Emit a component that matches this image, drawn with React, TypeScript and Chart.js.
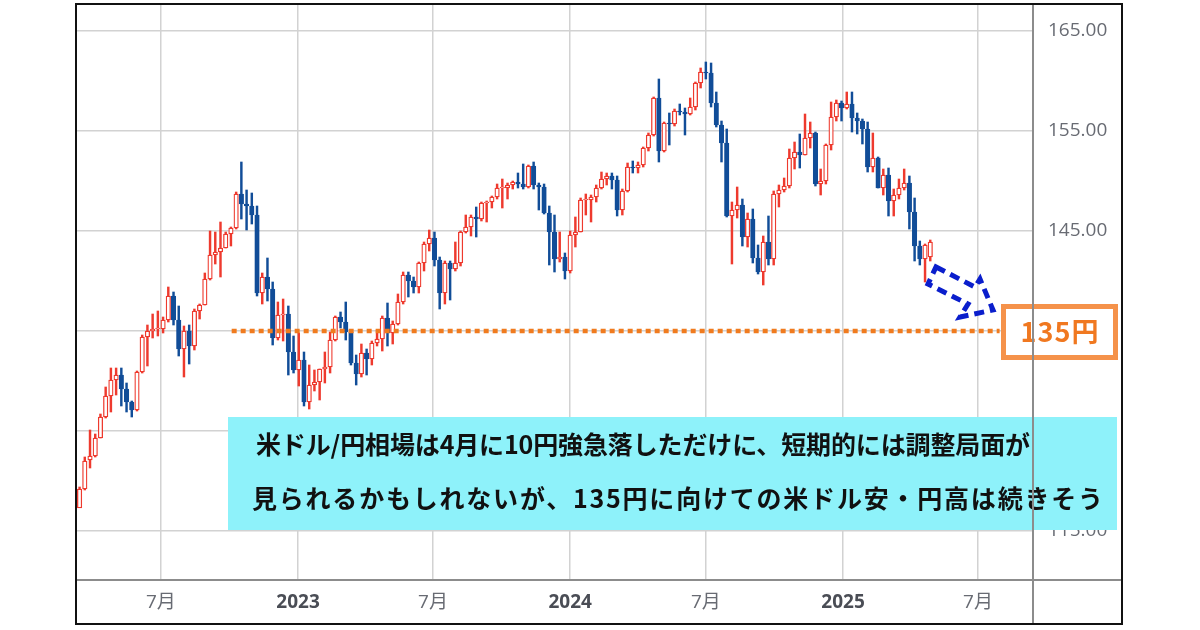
import React, { useEffect, useRef } from "react";
import { Chart, registerables } from "chart.js";

Chart.register(...registerables);

// ---- Data (weekly USD/JPY candles, week starting Monday) ----
const weeks: string[] = [
  // 2022
  "2022-03-07","2022-03-14","2022-03-21","2022-03-28","2022-04-04","2022-04-11","2022-04-18","2022-04-25",
  "2022-05-02","2022-05-09","2022-05-16","2022-05-23","2022-05-30","2022-06-06","2022-06-13","2022-06-20",
  "2022-06-27","2022-07-04","2022-07-11","2022-07-18","2022-07-25","2022-08-01","2022-08-08","2022-08-15",
  "2022-08-22","2022-08-29","2022-09-05","2022-09-12","2022-09-19","2022-09-26","2022-10-03","2022-10-10",
  "2022-10-17","2022-10-24","2022-10-31","2022-11-07","2022-11-14","2022-11-21","2022-11-28","2022-12-05",
  "2022-12-12","2022-12-19","2022-12-26",
  // 2023
  "2023-01-02","2023-01-09","2023-01-16","2023-01-23","2023-01-30","2023-02-06","2023-02-13","2023-02-20",
  "2023-02-27","2023-03-06","2023-03-13","2023-03-20","2023-03-27","2023-04-03","2023-04-10","2023-04-17",
  "2023-04-24","2023-05-01","2023-05-08","2023-05-15","2023-05-22","2023-05-29","2023-06-05","2023-06-12",
  "2023-06-19","2023-06-26","2023-07-03","2023-07-10","2023-07-17","2023-07-24","2023-07-31","2023-08-07",
  "2023-08-14","2023-08-21","2023-08-28","2023-09-04","2023-09-11","2023-09-18","2023-09-25","2023-10-02",
  "2023-10-09","2023-10-16","2023-10-23","2023-10-30","2023-11-06","2023-11-13","2023-11-20","2023-11-27",
  "2023-12-04","2023-12-11","2023-12-18","2023-12-25",
  // 2024
  "2024-01-01","2024-01-08","2024-01-15","2024-01-22","2024-01-29","2024-02-05","2024-02-12","2024-02-19",
  "2024-02-26","2024-03-04","2024-03-11","2024-03-18","2024-03-25","2024-04-01","2024-04-08","2024-04-15",
  "2024-04-22","2024-04-29","2024-05-06","2024-05-13","2024-05-20","2024-05-27","2024-06-03","2024-06-10",
  "2024-06-17","2024-06-24","2024-07-01","2024-07-08","2024-07-15","2024-07-22","2024-07-29","2024-08-05",
  "2024-08-12","2024-08-19","2024-08-26","2024-09-02","2024-09-09","2024-09-16","2024-09-23","2024-09-30",
  "2024-10-07","2024-10-14","2024-10-21","2024-10-28","2024-11-04","2024-11-11","2024-11-18","2024-11-25",
  "2024-12-02","2024-12-09","2024-12-16","2024-12-23","2024-12-30",
  // 2025
  "2025-01-06","2025-01-13","2025-01-20","2025-01-27","2025-02-03","2025-02-10","2025-02-17","2025-02-24",
  "2025-03-03","2025-03-10","2025-03-17","2025-03-24","2025-03-31","2025-04-07","2025-04-14","2025-04-21",
  "2025-04-28",
];

const openP: number[] = [
  114.8,117.3,119.2,122.1,122.5,124.3,126.4,128.5,130.1,130.6,129.2,127.9,127.1,130.9,134.4,135.0,135.2,135.2,136.1,138.5,136.1,133.2,135.0,133.5,137.0,137.6,140.2,142.6,142.9,143.3,144.7,145.3,148.7,147.7,147.5,146.6,138.8,140.4,139.2,134.3,136.6,136.7,132.9,
  131.1,132.1,127.9,129.6,129.9, 131.2,131.4,134.1,136.4, 135.9,134.9,131.8,130.7, 132.8,132.2,133.8,134.2, 136.3,134.8,135.7,137.9,140.6, 140.0,139.4,141.8,143.7, 144.3,142.1,138.8,141.8,141.2, 141.8,144.9,145.4,146.4, 146.2,147.8,147.9,148.4, 149.3,149.3,149.6,149.9,149.7, 149.4,151.5,149.6,149.4, 146.8,144.9,142.2,142.4,
  141.0,144.6,144.9,148.1,148.1, 148.4,149.3,150.2,150.5, 150.1,147.1,149.0,151.4, 151.3,151.6,153.3,154.6,158.3, 153.0,155.8,155.7,157.0, 156.9,156.7,157.4,159.8, 160.9,160.8,157.8,155.6,153.8, 146.5,147.1,147.6,144.4, 146.2,142.3,140.9,143.9,142.2, 148.7,149.1,149.5,152.3, 152.9,152.6,154.3,154.8, 149.7,150.0,153.6,156.4,157.8,
  157.3,157.7,156.3,156.0, 155.2,151.4,152.3,149.3, 150.6,148.0,148.6,149.3,149.8, 146.9,143.5,142.2,142.4,
];

const highP: number[] = [
  117.4,119.4,122.4,125.1,124.7,126.7,129.4,131.3,131.3,131.3,129.8,128.0,131.0,134.6,135.6,136.7,137.0,136.4,139.4,138.9,137.5,135.5,135.6,137.2,137.7,140.8,145.0,144.9,145.9,144.9,145.4,148.9,151.9,149.1,148.8,147.5,140.8,142.3,139.9,137.9,138.2,137.5,134.5,
  134.8,132.9,131.6,131.1,131.2, 132.9,134.9,136.5,136.9, 137.9,135.1,132.6,133.7, 133.2,134.0,135.1,136.5, 137.8,136.0,138.7,140.9,140.9, 140.4,141.9,143.9,145.1, 144.9,142.4,142.0,142.0,143.9, 145.0,146.6,146.6,147.4, 147.9,148.0,148.5,149.7, 150.2,149.8,150.0,150.8,151.7, 151.6,151.9,149.8,149.7, 147.5,146.6,144.9,142.8,
  145.0,146.4,148.3,148.7,148.6, 149.6,150.9,150.8,150.8, 150.5,149.2,151.8,152.0, 151.9,153.4,154.8,158.4,160.2, 155.9,156.8,157.2,157.7, 157.3,158.3,159.9,161.3, 161.9,161.8,158.9,156.0,155.2, 147.9,149.4,148.2,146.8, 147.2,143.6,144.5,146.5,149.0, 149.6,150.3,153.2,153.9, 154.7,156.7,155.9,154.9, 151.2,153.7,157.9,158.1,158.0,
  158.9,158.9,156.8,156.2, 155.9,154.8,152.4,151.2, 151.3,149.2,150.2,151.2,150.5, 148.3,144.0,143.7,144.1,
];

const lowP: number[] = [
  114.7,117.6,119.1,121.3,122.4,124.3,126.3,126.9,128.6,127.5,126.9,126.4,127.0,130.8,131.5,134.3,134.5,134.8,135.9,135.6,132.5,130.4,131.7,133.1,136.2,137.6,140.1,141.7,140.4,143.3,143.5,145.2,146.2,145.1,145.7,138.5,137.7,138.0,133.6,134.1,134.0,130.6,130.8,
  129.5,127.5,127.2,129.0,128.1, 129.8,130.8,134.0,135.3, 134.1,131.6,129.6,130.4, 130.6,131.6,133.5,133.0, 133.5,133.7,135.6,137.7,138.4, 138.8,138.8,141.0,143.0, 141.5,137.2,137.7,138.1,141.0, 141.5,144.8,144.5,144.4, 146.0,145.9,147.3,148.2, 147.3,148.2,149.2,149.3,149.2, 149.3,149.2,147.1,146.7, 141.6,140.9,141.9,140.2,
  140.8,143.4,144.9,146.6,145.9, 147.9,149.2,149.6,149.2, 146.5,146.6,148.9,150.8, 150.8,151.4,153.0,154.5,151.9, 152.9,153.6,155.5,156.6, 154.6,156.6,157.1,159.3, 160.2,157.4,155.4,151.9,146.4, 141.7,146.3,143.5,143.4, 141.8,140.7,139.6,141.6,141.6, 147.4,148.9,149.3,151.2, 151.3,152.6,153.3,149.5, 148.6,149.7,153.1,156.0,156.0,
  157.2,154.9,154.7,153.7, 150.9,150.9,149.3,148.6, 146.5,146.5,148.2,149.1,145.2, 142.0,141.6,139.9,142.0,
];

const closeP: number[] = [
  117.3,119.2,122.0,122.5,124.3,126.4,128.5,130.1,130.6,129.2,127.9,127.1,130.9,134.4,135.0,135.2,135.2,136.1,138.5,136.1,133.2,135.0,133.5,137.0,137.6,140.2,142.6,142.9,143.3,144.7,145.3,148.7,147.7,147.5,146.6,138.8,140.4,139.2,134.3,136.6,136.7,132.9,131.1,
  132.1,127.9,129.6,129.9,131.2, 131.4,134.1,136.4,135.9, 134.9,131.8,130.7,132.8, 132.2,133.8,134.2,136.3, 134.8,135.7,137.9,140.6,140.0, 139.4,141.8,143.7,144.3, 142.1,138.8,141.8,141.2,141.8, 144.9,145.4,146.4,146.2, 147.8,147.9,148.4,149.3, 149.3,149.6,149.9,149.7,149.4, 151.5,149.6,149.4,146.8, 144.9,142.2,142.4,141.0,
  144.6,144.9,148.1,148.1,148.4, 149.3,150.2,150.5,150.1, 147.1,149.0,151.4,151.3, 151.6,153.3,154.6,158.3,153.0, 155.8,155.7,157.0,156.9, 156.7,157.4,159.8,160.9, 160.8,157.8,155.6,153.8,146.5, 147.1,147.6,144.4,146.2, 142.3,140.9,143.9,142.2,148.7, 149.1,149.5,152.3,152.9, 152.6,154.3,154.8,149.7, 150.0,153.6,156.4,157.8,157.3,
  157.7,156.3,156.0,155.2, 151.4,152.3,149.3,150.6, 148.0,148.6,149.3,149.8,146.9, 143.5,142.2,143.6,143.9,
];

const yTicks: number[] = [115, 125, 135, 145, 155, 165];
const xTickDates: string[] = ["2022-07-01", "2023-01-01", "2023-07-01", "2024-01-01", "2024-07-01", "2025-01-01", "2025-07-01"];
const xTickLabels: string[] = ["7月", "2023", "7月", "2024", "7月", "2025", "7月"];

const targetLevel = 135;
const targetLabel = "135円";
const targetLineFrom = "2022-10-04";
const targetLineTo = "2025-07-30";

const noteLines: string[] = [
  "米ドル/円相場は4月に10円強急落しただけに、短期的には調整局面が",
  "見られるかもしれないが、135円に向けての米ドル安・円高は続きそう",
];

// ---- Styles ----
const RED = "#EE3A2E";
const BLUE = "#114D98";
const GRID = "#d2d2d2";
const AXIS = "#8c8c8c";
const ORANGE_LINE = "#F07B1F";
const ORANGE_TEXT = "#F07820";
const ORANGE_BORDER = "#F5924A";
const NOTE_BG = "#8EF2FA";
const ARROW = "#0A1ECC";
const TICK_FONT = "'Open Sans', 'Noto Sans CJK JP', sans-serif";
const JP_FONT = "'Noto Sans CJK JP', sans-serif";

const BASE = Date.UTC(2022, 0, 1);
function dayNum(s: string): number {
  const [y, m, d] = s.split("-").map(Number);
  return (Date.UTC(y, m - 1, d) - BASE) / 86400000;
}

const overlayPlugin = {
  id: "overlay",
  afterDraw(chart: any) {
    const { ctx, chartArea: ca, scales } = chart;
    const ys = scales.y;
    ctx.save();

    // note box
    ctx.fillStyle = NOTE_BG;
    ctx.fillRect(228, 417, 889, 113);
    ctx.fillStyle = "#111111";
    ctx.textBaseline = "middle";
    ctx.textAlign = "left";
    ctx.font = `bold 25px ${JP_FONT}`;
    const lefts = [256, 252];
    const rights = [1030, 1103];
    const ysTxt = [444, 498];
    noteLines.forEach((t, i) => {
      ctx.letterSpacing = "0px";
      const w = ctx.measureText(t).width;
      const n = Array.from(t).length;
      const sp = Math.max(-1, (rights[i] - lefts[i] - w) / (n - 1));
      ctx.letterSpacing = `${sp}px`;
      ctx.fillText(t, lefts[i], ysTxt[i]);
    });
    ctx.letterSpacing = "0px";

    // target label box
    const yc = ys.getPixelForValue(targetLevel);
    ctx.fillStyle = "#ffffff";
    ctx.fillRect(1001, yc - 27, 117, 56);
    ctx.strokeStyle = ORANGE_BORDER;
    ctx.lineWidth = 5;
    ctx.strokeRect(1003.5, yc - 24.5, 112, 51);
    ctx.fillStyle = ORANGE_TEXT;
    ctx.font = `bold 27px ${JP_FONT}`;
    ctx.textAlign = "left";
    ctx.letterSpacing = "1px";
    const tw = ctx.measureText(targetLabel).width;
    ctx.fillText(targetLabel, 1060 - tw / 2, yc + 1);
    ctx.letterSpacing = "0px";

    // dashed block arrow
    const pts = [[936, 267], [975, 287], [980, 279], [993, 310], [960, 317], [968, 304], [928, 284]];
    ctx.beginPath();
    pts.forEach(([x, y], i) => (i === 0 ? ctx.moveTo(x, y) : ctx.lineTo(x, y)));
    ctx.closePath();
    ctx.setLineDash([10, 6]);
    ctx.lineWidth = 5;
    ctx.strokeStyle = ARROW;
    ctx.lineJoin = "miter";
    ctx.stroke();
    ctx.setLineDash([]);

    // axis separators
    ctx.strokeStyle = AXIS;
    ctx.lineWidth = 2;
    ctx.beginPath();
    ctx.moveTo(ca.right, 4);
    ctx.lineTo(ca.right, 624);
    ctx.moveTo(76, ca.bottom);
    ctx.lineTo(1122, ca.bottom);
    ctx.stroke();

    // outer frame
    ctx.strokeStyle = "#111111";
    ctx.lineWidth = 2;
    ctx.strokeRect(76, 4, 1046, 620);
    ctx.restore();
  },
};

export default function App() {
  const ref = useRef<HTMLCanvasElement>(null);

  useEffect(() => {
    const canvas = ref.current;
    if (!canvas) return;
    const xs = weeks.map(dayNum);
    const up = openP.map((o, i) => closeP[i] >= o);
    const bodyData = xs.map((x, i) => ({ x, y: [Math.min(openP[i], closeP[i]), Math.max(openP[i], closeP[i])] }));
    const wickData = xs.map((x, i) => ({ x, y: [lowP[i], highP[i]] }));
    const tickDays = xTickDates.map(dayNum);

    const chart = new Chart(canvas, {
      type: "bar",
      data: {
        datasets: [
          {
            type: "line",
            data: [
              { x: dayNum(targetLineFrom), y: targetLevel },
              { x: dayNum(targetLineTo), y: targetLevel },
            ],
            borderColor: ORANGE_LINE,
            borderWidth: 4.5,
            borderDash: [5, 4],
            pointRadius: 0,
            fill: false,
            order: -1,
          } as any,
          {
            data: bodyData as any,
            backgroundColor: up.map((u) => (u ? "#ffffff" : BLUE)),
            borderColor: up.map((u) => (u ? RED : BLUE)),
            borderWidth: 1.3,
            borderSkipped: false,
            barThickness: 4.5,
            minBarLength: 1,
            grouped: false,
            order: 0,
          } as any,
          {
            data: wickData as any,
            backgroundColor: up.map((u) => (u ? RED : BLUE)),
            borderWidth: 0,
            barThickness: 1.8,
            grouped: false,
            order: 1,
          } as any,
        ],
      },
      options: {
        animation: false,
        responsive: false,
        devicePixelRatio: 1,
        events: [],
        layout: { autoPadding: false, padding: { left: 76, top: 4, right: 78, bottom: 6 } },
        plugins: { legend: { display: false }, tooltip: { enabled: false } },
        scales: {
          x: {
            type: "linear",
            min: 67.2,
            max: 1350.8,
            offset: false,
            grid: { offset: false, color: GRID, lineWidth: 1.5, drawTicks: false },
            border: { display: false },
            afterBuildTicks: (s: any) => {
              s.ticks = tickDays.map((v) => ({ value: v }));
            },
            afterFit: (s: any) => {
              s.height = 44;
              s.paddingLeft = 0;
              s.paddingRight = 0;
              s.paddingTop = 0;
              s.paddingBottom = 0;
            },
            ticks: {
              autoSkip: false,
              maxRotation: 0,
              padding: 11,
              callback: (v: any) => {
                const i = tickDays.indexOf(Number(v));
                return i >= 0 ? xTickLabels[i] : "";
              },
              font: (c: any) => ({
                family: TICK_FONT,
                size: 19,
                weight: /^\d{4}$/.test(String(c.tick?.label)) ? "bold" : "normal",
              }),
              color: (c: any) => (/^\d{4}$/.test(String(c.tick?.label)) ? "#4a4d55" : "#686b73"),
            },
          } as any,
          y: {
            type: "linear",
            position: "right",
            min: 110.1,
            max: 167.7,
            grid: { color: GRID, lineWidth: 1.5, drawTicks: false },
            border: { display: false },
            afterBuildTicks: (s: any) => {
              s.ticks = yTicks.map((v) => ({ value: v }));
            },
            afterFit: (s: any) => {
              s.width = 89;
              s.paddingTop = 0;
              s.paddingBottom = 0;
              s.paddingLeft = 0;
              s.paddingRight = 0;
            },
            ticks: {
              padding: 15,
              callback: (v: any) => Number(v).toFixed(2),
              font: { family: TICK_FONT, size: 19 },
              color: "#686b73",
            },
          } as any,
        },
      },
      plugins: [overlayPlugin],
    });

    return () => chart.destroy();
  }, []);

  return (
    <div style={{ position: "absolute", left: 0, top: 0, width: 1200, height: 630, background: "#ffffff" }}>
      <canvas ref={ref} width={1200} height={630} style={{ display: "block" }} />
    </div>
  );
}
